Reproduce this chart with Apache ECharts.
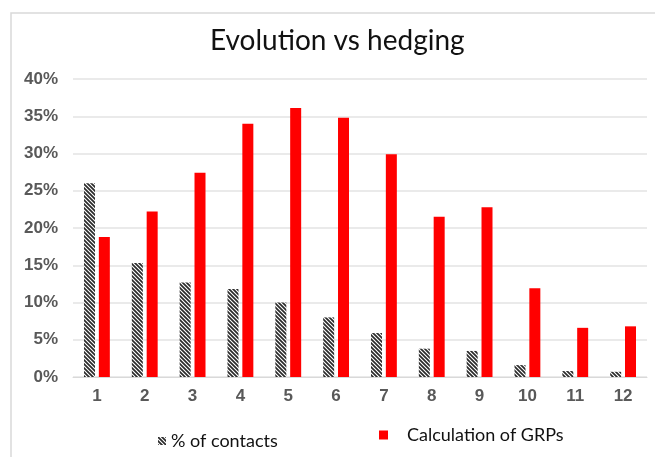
<!DOCTYPE html>
<html><head><meta charset="utf-8">
<script src="https://cdn.jsdelivr.net/npm/echarts@6/dist/echarts.min.js"></script>
<style>html,body{margin:0;padding:0;background:#fff}#c{width:655px;height:457px}</style>
</head><body><div id="c"></div>
<script>
const categories = ['1','2','3','4','5','6','7','8','9','10','11','12'];
const contacts = [26, 15.3, 12.7, 11.8, 10, 8, 5.9, 3.8, 3.5, 1.6, 0.8, 0.7];
const grps = [18.8, 22.2, 27.4, 34, 36.1, 34.8, 29.9, 21.5, 22.8, 11.9, 6.6, 6.8];
const yTicks = [0, 5, 10, 15, 20, 25, 30, 35, 40];

function hatch() {
  const c = document.createElement('canvas');
  c.width = 4; c.height = 4;
  const g = c.getContext('2d');
  g.fillStyle = '#ffffff'; g.fillRect(0,0,4,4);
  g.strokeStyle = '#2a2a2a'; g.lineWidth = 1.7;
  g.beginPath();
  g.moveTo(-1,-1); g.lineTo(5,5);
  g.moveTo(-1,3); g.lineTo(1,5);
  g.moveTo(3,-1); g.lineTo(5,1);
  g.stroke();
  return c;
}
const pat = {image: hatch(), repeat: 'repeat'};

const chart = echarts.init(document.getElementById('c'));
chart.setOption({
  animation: false,
  title: {text: 'Evolution vs hedging', left: 205, top: 22,
    textStyle: {fontFamily: 'Lato', fontSize: 28, fontWeight: 'normal', color: '#111'}},
  graphic: [{type: 'rect', shape: {x: 11, y: 13, width: 700, height: 500},
    style: {fill: 'none', stroke: '#d9d9d9', lineWidth: 1.5}, silent: true}],
  grid: {left: 73, right: 8, top: 79, bottom: 80},
  legend: [
    {data: ['% of contacts'], left: 153, top: 427, icon: 'rect', itemWidth: 8, itemHeight: 8, itemGap: 4,
     textStyle: {fontFamily: 'Lato', fontSize: 18, color: '#111'}},
    {data: ['Calculation of GRPs'], left: 374, top: 421, icon: 'rect', itemWidth: 9, itemHeight: 9, itemGap: 10,
     textStyle: {fontFamily: 'Lato', fontSize: 18, color: '#111', padding: [0,0,0,14]}}
  ],
  xAxis: {type: 'category', data: categories,
    axisLine: {lineStyle: {color: '#d9d9d9'}}, axisTick: {show: false},
    axisLabel: {fontFamily: 'Liberation Sans', fontSize: 17, fontWeight: 'bold', color: '#595959', margin: 11}},
  yAxis: {type: 'value', min: 0, max: 40, interval: 5,
    axisLabel: {fontFamily: 'Liberation Sans', fontSize: 17, fontWeight: 'bold', color: '#595959', margin: 15,
      formatter: v => yTicks.includes(v) ? v + '%' : ''},
    splitLine: {lineStyle: {color: '#e3e3e3', width: 1.5}}},
  series: [
    {name: '% of contacts', type: 'bar', data: contacts, barWidth: 11, barGap: '35%',
     itemStyle: {color: pat}},
    {name: 'Calculation of GRPs', type: 'bar', data: grps, barWidth: 11,
     itemStyle: {color: '#ff0000'}}
  ]
});
</script></body></html>
